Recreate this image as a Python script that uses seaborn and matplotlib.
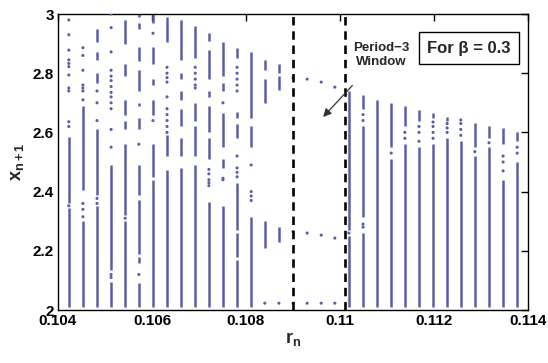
import matplotlib
matplotlib.use("Agg")
import matplotlib.pyplot as plt
import seaborn as sns
import pandas as pd

# ---------------- data ----------------
col_r = [0.10423, 0.10453, 0.10483, 0.10513, 0.10543, 0.10572, 0.10602, 0.10632,
         0.10662, 0.10692, 0.10721, 0.10751, 0.10781, 0.10811, 0.10840, 0.10870,
         0.10900, 0.10930, 0.10960, 0.10989, 0.11019, 0.11049, 0.11079, 0.11109,
         0.11138, 0.11168, 0.11198, 0.11228, 0.11257, 0.11287, 0.11317, 0.11347,
         0.11377]

# dense runs of iterates in each column: (low, high)
dense_runs = [
    [(2.36, 2.586), (2.011, 2.345)],
    [(2.405, 2.69), (2.011, 2.30)],
    [(2.905, 2.95), (2.845, 2.87), (2.766, 2.80), (2.39, 2.61), (2.011, 2.35)],
    [(2.135, 2.49), (2.011, 2.095)],
    [(2.90, 2.98), (2.79, 2.83), (2.66, 2.71), (2.61, 2.64), (2.32, 2.56), (2.011, 2.30)],
    [(2.99, 3.0), (2.95, 2.97), (2.84, 2.89), (2.74, 2.81), (2.69, 2.70), (2.61, 2.65),
     (2.39, 2.49), (2.19, 2.37), (2.16, 2.18), (2.011, 2.09)],
    [(2.97, 3.0), (2.83, 2.89), (2.76, 2.78), (2.66, 2.71), (2.45, 2.56), (2.011, 2.44)],
    [(2.905, 2.99), (2.52, 2.59), (2.011, 2.473)],
    [(2.845, 2.98), (2.78, 2.80), (2.71, 2.74), (2.62, 2.68), (2.52, 2.58), (2.011, 2.48)],
    [(2.85, 2.96), (2.64, 2.70), (2.52, 2.62), (2.011, 2.49)],
    [(2.91, 2.935), (2.78, 2.88), (2.72, 2.74), (2.60, 2.69), (2.51, 2.58), (2.011, 2.366)],
    [(2.79, 2.905), (2.74, 2.766), (2.55, 2.665), (2.48, 2.51), (2.011, 2.35)],
    [(2.85, 2.884), (2.65, 2.67), (2.58, 2.63), (2.27, 2.43), (2.18, 2.26), (2.011, 2.17)],
    [(2.65, 2.87), (2.55, 2.62), (2.011, 2.315)],
    [(2.81, 2.845), (2.70, 2.78), (2.21, 2.30)],
    [(2.80, 2.83), (2.743, 2.79), (2.23, 2.28)],
    [],
    [],
    [],
    [],
    [(2.27, 2.74), (2.011, 2.25)],
    [(2.68, 2.726), (2.315, 2.62), (2.011, 2.26)],
    [(2.011, 2.71)],
    [(2.55, 2.70), (2.011, 2.51)],
    [(2.62, 2.69), (2.011, 2.56)],
    [(2.64, 2.676), (2.011, 2.55)],
    [(2.65, 2.665), (2.011, 2.56)],
    [(2.64, 2.652), (2.011, 2.58)],
    [(2.011, 2.57)],
    [(2.55, 2.632), (2.011, 2.52)],
    [(2.58, 2.622), (2.011, 2.55)],
    [(2.56, 2.614), (2.011, 2.44)],
    [(2.57, 2.60), (2.011, 2.50)],
]

# isolated iterates in each column
sparse_pts = [
    [2.98, 2.93, 2.878, 2.845, 2.833, 2.822, 2.794, 2.75, 2.74, 2.636, 2.62, 2.352],
    [2.886, 2.86, 2.81, 2.76, 2.75, 2.74, 2.71, 2.36, 2.34, 2.315],
    [2.74, 2.70, 2.64, 2.377, 2.36],
    [3.0, 2.954, 2.872, 2.81, 2.79, 2.775, 2.755, 2.735, 2.72, 2.70, 2.68, 2.61, 2.55, 2.12, 2.11],
    [2.31],
    [2.56, 2.12],
    [2.935, 2.64],
    [2.82, 2.80, 2.785, 2.77, 2.72, 2.68, 2.66, 2.64, 2.62, 2.60],
    [],
    [2.82, 2.80, 2.78, 2.76, 2.75],
    [2.475, 2.46, 2.44, 2.43, 2.42],
    [2.70, 2.445, 2.44],
    [2.82, 2.80, 2.78, 2.76, 2.74, 2.52, 2.48, 2.465, 2.45],
    [2.49, 2.40, 2.385, 2.37],
    [2.023],
    [2.023],
    [2.785, 2.265, 2.023],
    [2.78, 2.26, 2.023],
    [2.77, 2.253, 2.023],
    [2.753, 2.243, 2.023],
    [2.26],
    [2.66, 2.64, 2.29, 2.28],
    [],
    [2.53],
    [2.60, 2.58],
    [2.62, 2.60, 2.57],
    [2.635, 2.62, 2.60, 2.58],
    [2.63, 2.615, 2.60],
    [2.642, 2.63, 2.61, 2.59],
    [2.535],
    [2.565],
    [2.52, 2.50, 2.47],
    [2.55, 2.53],
]

window_edges = [0.10901, 0.11010]
x_ticks = [0.104, 0.106, 0.108, 0.110, 0.112, 0.114]
x_ticklabels = ["0.104", "0.106", "0.108", "0.11", "0.112", "0.114"]
y_ticks = [2.0, 2.2, 2.4, 2.6, 2.8, 3.0]
y_ticklabels = ["2", "2.2", "2.4", "2.6", "2.8", "3"]

# ---------------- build tables ----------------
dot_rows = [(r, y) for r, ys in zip(col_r, sparse_pts) for y in ys]
dots = pd.DataFrame(dot_rows, columns=["r", "x"])
seg_rows = [(r, lo, hi) for r, segs in zip(col_r, dense_runs) for lo, hi in segs]
segs = pd.DataFrame(seg_rows, columns=["r", "lo", "hi"])

# ---------------- style ----------------
sns.set_theme(style="white")
plt.rcParams["font.family"] = ["Liberation Sans", "DejaVu Sans"]
plt.rcParams["font.weight"] = "bold"
plt.rcParams["mathtext.fontset"] = "custom"
plt.rcParams["mathtext.rm"] = "Liberation Sans:bold"
plt.rcParams["mathtext.it"] = "Liberation Sans:bold"
plt.rcParams["mathtext.bf"] = "Liberation Sans:bold"

DOT = "#5a5eaa"

fig = plt.figure(figsize=(5.48, 3.63), dpi=100)
ax = fig.add_axes([58 / 548, 53 / 363, 470 / 548, 296 / 363])

ax.vlines(segs["r"], segs["lo"], segs["hi"], colors=DOT, linewidth=1.8, zorder=2)
sns.scatterplot(data=dots, x="r", y="x", ax=ax, color=DOT, s=5, linewidth=0,
                edgecolor="none", zorder=3, legend=False)

for xe in window_edges:
    ax.axvline(xe, color="black", linewidth=1.9, dashes=(3.2, 2.2), zorder=4)

ax.set_xlim(0.104, 0.114)
ax.set_ylim(2.0, 3.0)
ax.set_xticks(x_ticks)
ax.set_xticklabels(x_ticklabels)
ax.set_yticks(y_ticks)
ax.set_yticklabels(y_ticklabels)
ax.tick_params(direction="in", length=5, width=1, top=True, right=True,
               labelsize=11, pad=3, colors="black")
for lab in ax.get_xticklabels() + ax.get_yticklabels():
    lab.set_fontweight("bold")
for sp in ax.spines.values():
    sp.set_color("black")
    sp.set_linewidth(1)

ax.set_xlabel(r"$\mathrm{r}_{\mathrm{n}}$", fontsize=13, labelpad=1)
ax.set_ylabel(r"$\mathrm{x}_{\mathrm{n+1}}$", fontsize=13, labelpad=5)

ax.text(0.11274, 2.885, "For β = 0.3", ha="center", va="center", fontsize=12,
        fontweight="bold",
        bbox=dict(boxstyle="square,pad=0.5", fc="white", ec="black", lw=1), zorder=5)

ax.annotate("Period\u22123\nWindow", xy=(0.10964, 2.652), xytext=(0.11087, 2.862),
            ha="center", va="center", fontsize=9.5, fontweight="bold",
            linespacing=1.25,
            arrowprops=dict(arrowstyle="-|>", color="#333333", lw=0.9,
                            shrinkA=14, shrinkB=0, mutation_scale=12),
            zorder=5)

fig.savefig("out.png", dpi=100)
